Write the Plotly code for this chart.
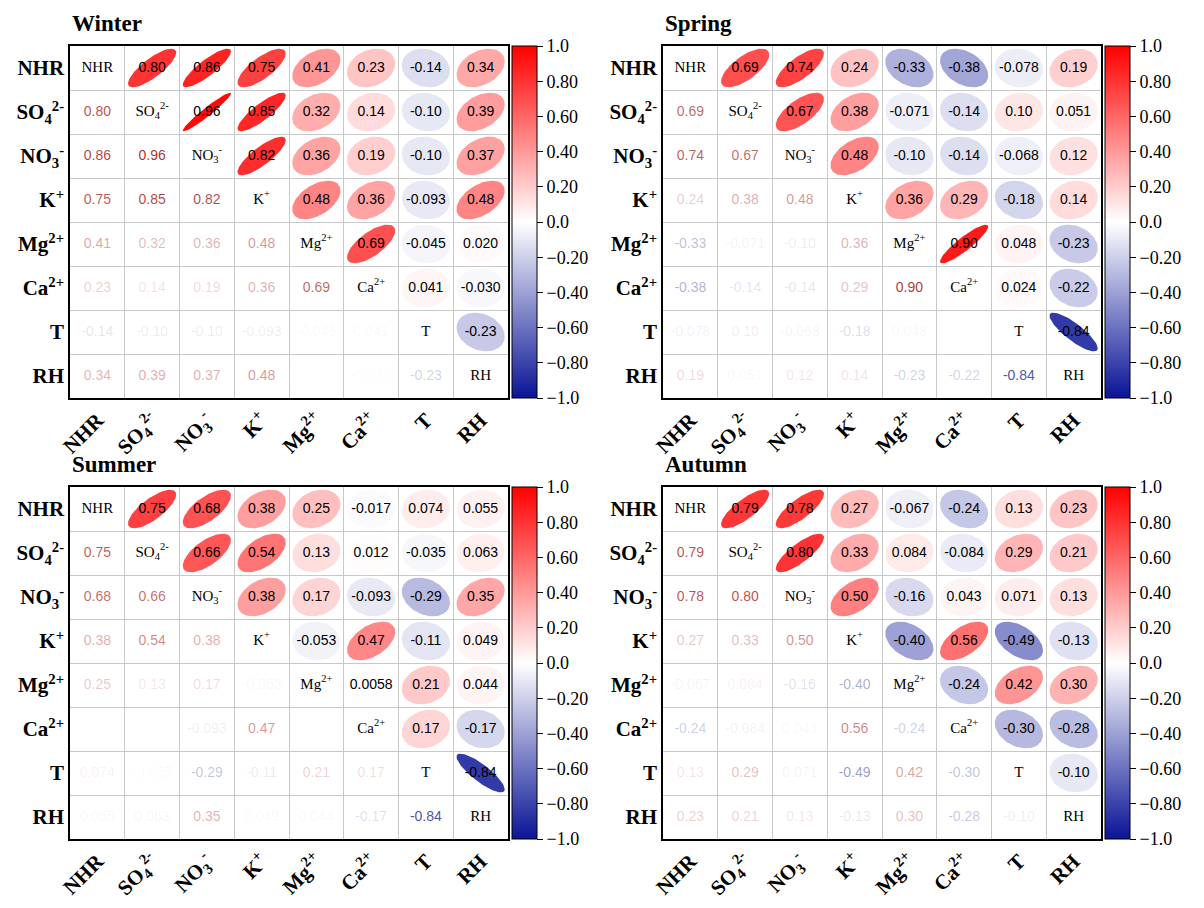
import numpy as np
import plotly.graph_objects as go

# ---------------- data ----------------
variables = ["NHR", "SO<sub>4</sub><sup>2-</sup>", "NO<sub>3</sub><sup>-</sup>", "K<sup>+</sup>",
             "Mg<sup>2+</sup>", "Ca<sup>2+</sup>", "T", "RH"]
seasons = ["Winter", "Spring", "Summer", "Autumn"]

# upper-triangle correlations, row by row (row i holds r(i, j) for j > i)
winter = [
    [0.80, 0.86, 0.75, 0.41, 0.23, -0.14, 0.34],
    [0.96, 0.85, 0.32, 0.14, -0.10, 0.39],
    [0.82, 0.36, 0.19, -0.10, 0.37],
    [0.48, 0.36, -0.093, 0.48],
    [0.69, -0.045, 0.020],
    [0.041, -0.030],
    [-0.23],
]
spring = [
    [0.69, 0.74, 0.24, -0.33, -0.38, -0.078, 0.19],
    [0.67, 0.38, -0.071, -0.14, 0.10, 0.051],
    [0.48, -0.10, -0.14, -0.068, 0.12],
    [0.36, 0.29, -0.18, 0.14],
    [0.90, 0.048, -0.23],
    [0.024, -0.22],
    [-0.84],
]
summer = [
    [0.75, 0.68, 0.38, 0.25, -0.017, 0.074, 0.055],
    [0.66, 0.54, 0.13, 0.012, -0.035, 0.063],
    [0.38, 0.17, -0.093, -0.29, 0.35],
    [-0.053, 0.47, -0.11, 0.049],
    [0.0058, 0.21, 0.044],
    [0.17, -0.17],
    [-0.84],
]
autumn = [
    [0.79, 0.78, 0.27, -0.067, -0.24, 0.13, 0.23],
    [0.80, 0.33, 0.084, -0.084, 0.29, 0.21],
    [0.50, -0.16, 0.043, 0.071, 0.13],
    [-0.40, 0.56, -0.49, -0.13],
    [-0.24, 0.42, 0.30],
    [-0.30, -0.28],
    [-0.10],
]
season_data = [winter, spring, summer, autumn]

cbar_vals = [-1.0, -0.8, -0.6, -0.4, -0.2, 0.0, 0.2, 0.4, 0.6, 0.8, 1.0]
cbar_text = ["\u22121.0", "\u22120.80", "\u22120.60", "\u22120.40", "\u22120.20", "0.0",
             "0.20", "0.40", "0.60", "0.80", "1.0"]

# ---------------- styling ----------------
OFF = 8                       # page body margin
W, H = 1204 - OFF, 908 - OFF
NEG = (10, 20, 150)
MID = (255, 255, 255)
POS = (255, 0, 0)
colorscale = [[0.0, "rgb(10,20,150)"], [0.5, "rgb(255,255,255)"], [1.0, "rgb(255,0,0)"]]
TXT_POS = (170, 30, 30)
TXT_NEG = (35, 50, 140)
SERIF = "Liberation Serif"
SANS = "Liberation Sans"

# plot boxes in window pixels: (left, right, top, bottom)
boxes = [(70, 508, 46, 398), (663, 1101, 46, 398), (70, 508, 487, 839), (663, 1101, 487, 839)]


def px(xp):
    return (xp - OFF) / W


def py(yp):
    return 1 - (yp - OFF) / H


def cmap(r):
    end = POS if r >= 0 else NEG
    a = abs(r)
    c = [round(MID[k] + (end[k] - MID[k]) * a) for k in range(3)]
    return "rgb(%d,%d,%d)" % tuple(c)


def fmt(v):
    return f"{v:#.2g}"


def full_matrix(upper):
    n = len(upper) + 1
    M = np.eye(n)
    for i, row in enumerate(upper):
        for k, v in enumerate(row):
            j = i + 1 + k
            M[i, j] = v
            M[j, i] = v
    return M


fig = go.Figure()
n = len(variables)
t = np.linspace(0, 2 * np.pi, 80)
s = 0.44
d1 = np.array([1.0, -1.0]) / np.sqrt(2)  # screen "/" direction (y axis reversed)
d2 = np.array([1.0, 1.0]) / np.sqrt(2)

for p, (name, upper) in enumerate(zip(seasons, season_data)):
    xa = "x" if p == 0 else f"x{p+1}"
    ya = "y" if p == 0 else f"y{p+1}"
    M = full_matrix(upper)
    L, R, T, B = boxes[p]

    # colorbar carrier (invisible marker in an ellipse cell)
    fig.add_trace(go.Scatter(
        x=[7], y=[0], mode="markers", hoverinfo="skip", showlegend=False,
        marker=dict(size=1, opacity=0, color=[0], cmin=-1, cmax=1, colorscale=colorscale,
                    showscale=True,
                    colorbar=dict(x=px(R + 4), xanchor="left", xpad=0,
                                  y=py(T), yanchor="top", ypad=0,
                                  len=B - T, lenmode="pixels",
                                  thickness=25, thicknessmode="pixels",
                                  outlinewidth=1, outlinecolor="black",
                                  tickmode="array", tickvals=cbar_vals, ticktext=cbar_text,
                                  ticks="outside", ticklen=6, tickcolor="black",
                                  tickfont=dict(family=SERIF, size=18, color="black"))),
        xaxis=xa, yaxis=ya))

    # ellipses (upper triangle)
    for i in range(n):
        for j in range(i + 1, n):
            r = M[i, j]
            A = s * np.sqrt(1 + r)
            Bm = s * np.sqrt(max(1 - r, 0.0))
            u = A * np.cos(t)
            v = Bm * np.sin(t)
            ex = j + u * d1[0] + v * d2[0]
            ey = i + u * d1[1] + v * d2[1]
            fig.add_trace(go.Scatter(x=ex, y=ey, mode="lines", fill="toself",
                                     fillcolor=cmap(r), line=dict(width=0),
                                     hoverinfo="skip", showlegend=False,
                                     xaxis=xa, yaxis=ya))

    ux, uy, ut = [], [], []
    lx, ly, lt, lc = [], [], [], []
    for i in range(n):
        for j in range(n):
            if j > i:
                ux.append(j); uy.append(i); ut.append(fmt(M[i, j]))
            elif j < i:
                r = M[i, j]
                base = TXT_POS if r >= 0 else TXT_NEG
                lx.append(j); ly.append(i); lt.append(fmt(r))
                lc.append("rgba(%d,%d,%d,%.3f)" % (base[0], base[1], base[2], abs(r)))
    fig.add_trace(go.Scatter(x=ux, y=uy, text=ut, mode="text",
                             textfont=dict(family=SANS, size=14, color="black"),
                             hoverinfo="skip", showlegend=False, xaxis=xa, yaxis=ya))
    fig.add_trace(go.Scatter(x=lx, y=ly, text=lt, mode="text",
                             textfont=dict(family=SANS, size=14, color=lc),
                             hoverinfo="skip", showlegend=False, xaxis=xa, yaxis=ya))
    fig.add_trace(go.Scatter(x=list(range(n)), y=list(range(n)), text=variables, mode="text",
                             textfont=dict(family=SERIF, size=15, color="black"),
                             hoverinfo="skip", showlegend=False, xaxis=xa, yaxis=ya))

    axis_common = dict(showgrid=False, zeroline=False, showline=True, mirror=True,
                       linecolor="black", linewidth=1.5, ticks="", automargin=False,
                       tickmode="array", tickvals=list(range(n)), ticktext=variables,
                       tickfont=dict(family=SERIF, size=21, color="black", weight="bold"),
                       minor=dict(tickmode="array", tickvals=[k + 0.5 for k in range(n - 1)],
                                  showgrid=True, gridcolor="#c8c8c8", gridwidth=1, ticks=""))
    fig.layout[xa.replace("x", "xaxis")] = dict(
        domain=[px(L), px(R)], range=[-0.5, n - 0.5], anchor=ya, tickangle=-45, **axis_common)
    fig.layout[ya.replace("y", "yaxis")] = dict(
        domain=[py(B), py(T)], range=[n - 0.5, -0.5], anchor=xa, **axis_common)

    fig.add_annotation(text=f"<b>{name}</b>", x=px(L), y=py(T - 23),
                       xref="paper", yref="paper", xanchor="left", yanchor="middle",
                       showarrow=False, font=dict(family=SERIF, size=23, color="black"))

fig.update_layout(width=W, height=H, margin=dict(l=0, r=0, t=0, b=0, autoexpand=False),
                  paper_bgcolor="white", plot_bgcolor="white", showlegend=False)

fig.write_html("out.html")
